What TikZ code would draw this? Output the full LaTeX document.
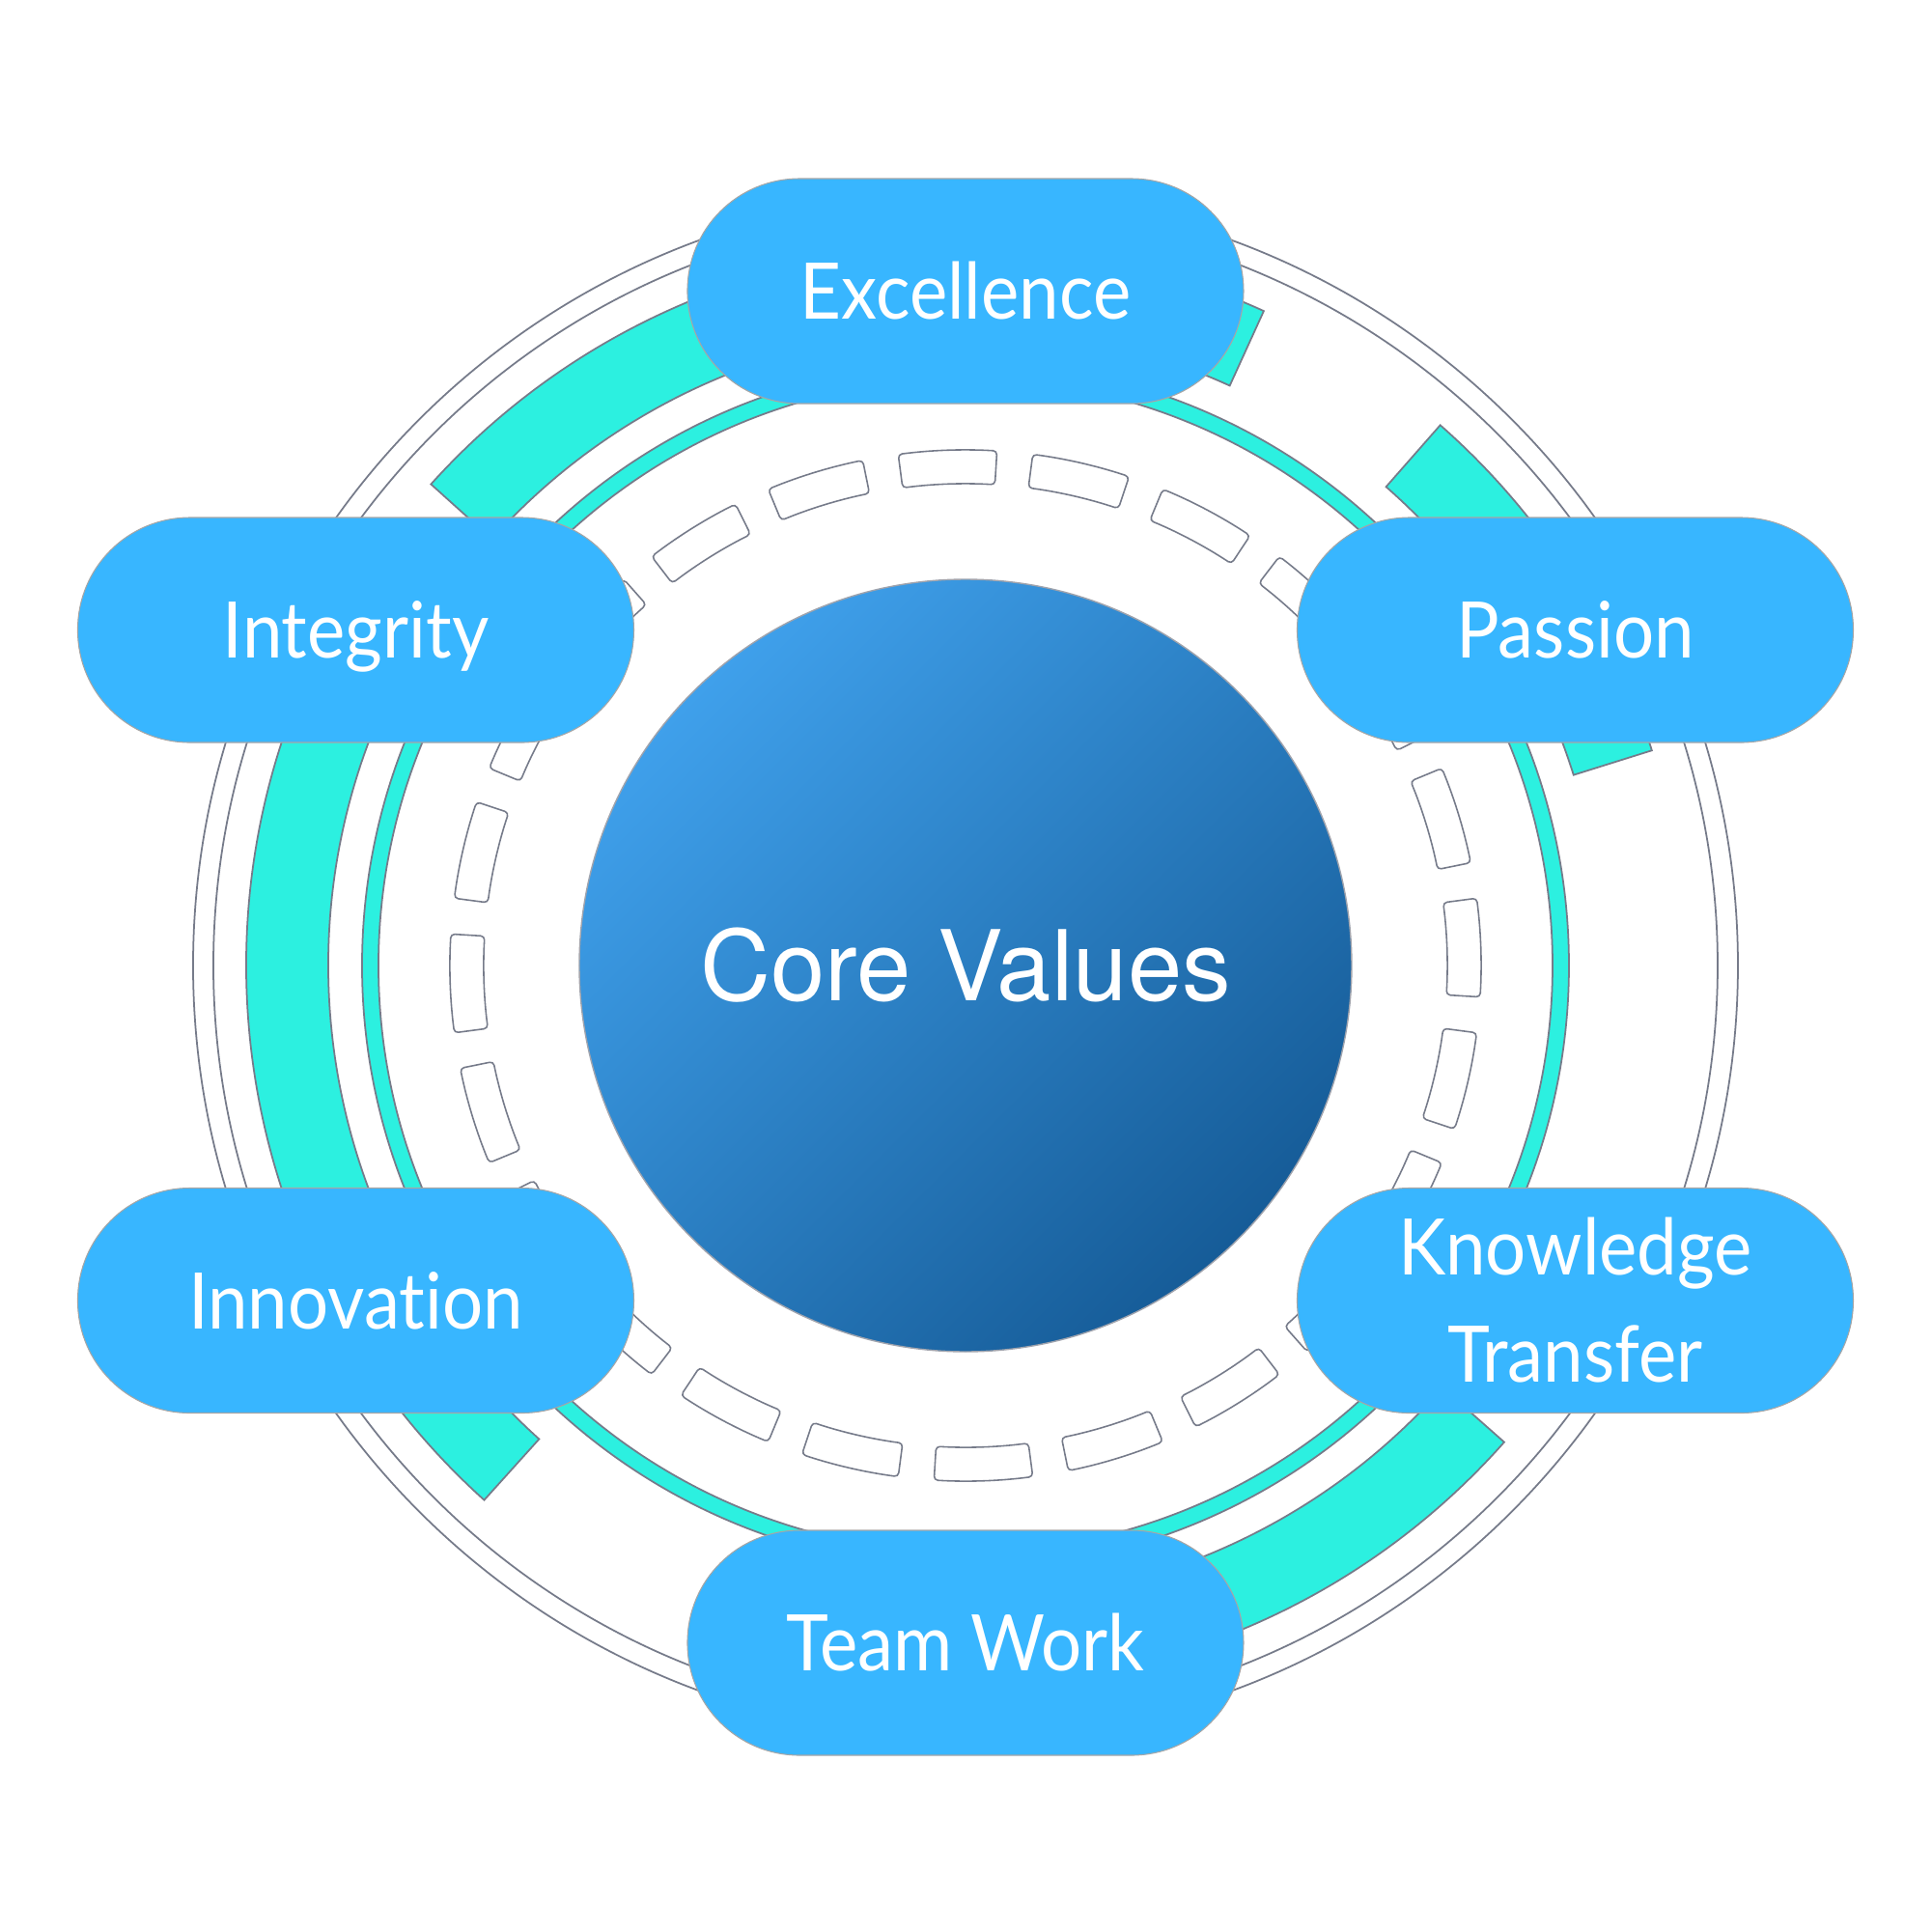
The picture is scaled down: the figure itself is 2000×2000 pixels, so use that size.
\documentclass[tikz,border=0pt]{standalone}
\usepackage{fontspec}
\setmainfont{Lato}[Ligatures={NoCommon,NoRare},FakeStretch=0.92]
\newfontfamily\cvfont{TeX Gyre Heros}
\definecolor{pillblue}{RGB}{56,182,255}
\definecolor{tealc}{RGB}{44,240,224}
\definecolor{edgec}{RGB}{118,123,138}
\definecolor{cvlight}{RGB}{63,160,235}
\definecolor{cvdark}{RGB}{22,92,152}
\begin{document}
\begin{tikzpicture}[x=0.1mm,y=0.1mm,
  ringedge/.style={draw=edgec,line width=0.5pt},
  tealband/.style={fill=tealc,ringedge},
  dashseg/.style={fill=white,draw=edgec,line width=0.45pt,rounded corners=0.4mm},
  pillbase/.style={fill=pillblue,draw=black!35,line width=0.3pt,rounded corners=11.6mm,
    minimum width=57.6mm,minimum height=23.3mm,inner sep=0pt,text=white,
    font=\fontsize{23}{31.6}\selectfont},
  pill/.style={pillbase,text height=16.5pt,text depth=0pt},
  corecircle/.style={circle,minimum size=80mm,inner sep=0pt,draw=edgec!70,line width=0.4pt,
    top color=cvlight,bottom color=cvdark,shading angle=45,text=white,
    font=\cvfont\fontsize{28.8}{35}\selectfont,text height=20.7pt,text depth=0pt}
]
\useasboundingbox (-1000,-1000) rectangle (1000,1000);
% outer double ring
\draw[ringedge,fill=white] (0,0) circle[radius=800];
\draw[ringedge] (0,0) circle[radius=779];
% thick teal arcs
\foreach \a/\b in {65.5/138,17.4/48.7,-100/-41.5,150/228}{
  \draw[tealband] (\a:745) arc[start angle=\a,end angle=\b,radius=745]
    -- (\b:660) arc[start angle=\b,end angle=\a,radius=660] -- cycle;
}
% thin teal ring
\path[tealband,even odd rule] (0,0) circle[radius=625] (0,0) circle[radius=608];
% dashed ring
\foreach \k in {0,...,23}{
  \pgfmathsetmacro\da{15*\k+2-5.5}
  \pgfmathsetmacro\db{15*\k+2+5.5}
  \draw[dashseg] (\da:534) arc[start angle=\da,end angle=\db,radius=534]
    -- (\db:499) arc[start angle=\db,end angle=\da,radius=499] -- cycle;
}
% centre
\node[corecircle] (core) at (0,0) {Core Values};
% pills
\node[pill] (exc) at (0,698.5) {Excellence};
\node[pill] (integ) at (-631.5,347.5) {Integrity};
\node[pill] (pass) at (631.5,347.5) {Passion};
\node[pill] (innov) at (-631.5,-347) {Innovation};
\node[pillbase,text height=48.1pt,text depth=0pt] (know) at (631.5,-347)
  {\vbox{\baselineskip=31.6pt\halign{\hfil#\hfil\cr Knowledge\cr Transfer\cr}}};
\node[pill] (team) at (0,-701.5) {Team Work};
\end{tikzpicture}
\end{document}
